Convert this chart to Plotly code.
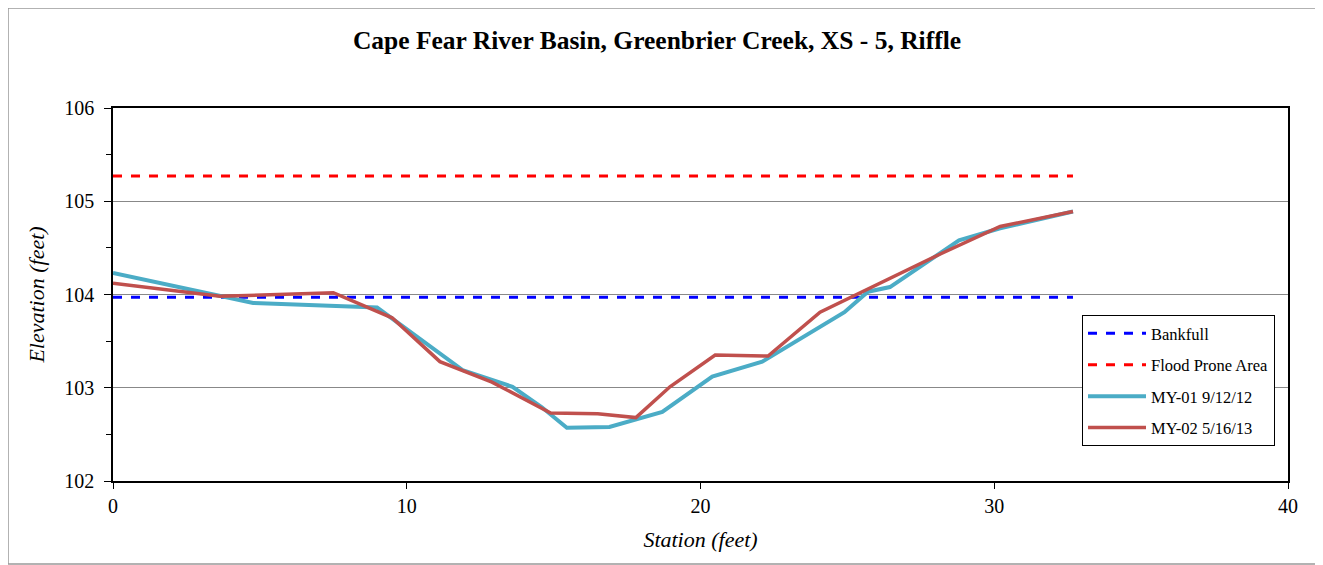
import plotly.graph_objects as go

# Data
bankfull_x = [0, 32.68]
bankfull_y = [103.97, 103.97]
flood_x = [0, 32.68]
flood_y = [105.27, 105.27]

my01_x = [0, 4.77, 8.99, 11.9, 13.6, 14.6, 15.45, 16.9, 18.7, 20.4, 22.1, 24.9, 25.7, 26.45, 28.8, 30.2, 32.68]
my01_y = [104.23, 103.91, 103.86, 103.19, 103.01, 102.79, 102.57, 102.58, 102.74, 103.12, 103.28, 103.81, 104.03, 104.08, 104.58, 104.71, 104.89]

my02_x = [0, 3.64, 7.5, 9.5, 11.13, 12.9, 14.9, 16.5, 17.8, 18.96, 20.5, 22.3, 24.07, 25.77, 28.2, 30.2, 32.68]
my02_y = [104.12, 103.98, 104.02, 103.75, 103.28, 103.06, 102.73, 102.72, 102.68, 103.01, 103.35, 103.34, 103.81, 104.07, 104.44, 104.73, 104.89]

FONT = "Liberation Serif, Times New Roman, serif"

fig = go.Figure()
fig.add_trace(go.Scatter(x=bankfull_x, y=bankfull_y, mode="lines", name="Bankfull",
                         line=dict(color="#0000FF", width=3, dash="dash"), legendgroup="a"))
fig.add_trace(go.Scatter(x=flood_x, y=flood_y, mode="lines", name="Flood Prone Area",
                         line=dict(color="#FF0000", width=3, dash="dash"), legendgroup="b"))
fig.add_trace(go.Scatter(x=my01_x, y=my01_y, mode="lines", name="MY-01 9/12/12",
                         line=dict(color="#4BACC6", width=4), legendgroup="c"))
fig.add_trace(go.Scatter(x=my02_x, y=my02_y, mode="lines", name="MY-02 5/16/13",
                         line=dict(color="#C0504D", width=3.5), legendgroup="d"))

# page body has an 8px margin, so the figure is drawn 8px smaller and offset
OFF = 8
W, H = 1323 - OFF, 565 - OFF
L, R, T, B = 113 - OFF, 35, 108 - OFF, 84
PW = W - L - R
PH = H - T - B

fig.update_layout(
    width=W, height=H,
    margin=dict(l=L, r=R, t=T, b=B),
    paper_bgcolor="white", plot_bgcolor="white",
    font=dict(family=FONT, size=20, color="black"),
    title=dict(text="<b>Cape Fear River Basin, Greenbrier Creek, XS - 5, Riffle</b>",
               x=(657 - OFF) / W, xref="container", xanchor="center",
               y=1 - (40 - OFF) / H, yanchor="middle",
               font=dict(family=FONT, size=25.5, color="black")),
    showlegend=True,
    legend=dict(x=(1082 - 113) / PW, y=(481 - 315) / PH, xanchor="left", yanchor="top",
                bordercolor="black", borderwidth=1, bgcolor="white",
                font=dict(family=FONT, size=16.5), tracegroupgap=7,
                traceorder="grouped", itemwidth=58),
    xaxis=dict(range=[0, 40], dtick=10, showgrid=False, zeroline=False,
               showline=True, linecolor="black", linewidth=1.5, mirror=True,
               ticks="outside", ticklen=6, tickcolor="black",
               tickfont=dict(family=FONT, size=20),
               title=dict(text="<i>Station (feet)</i>", font=dict(family=FONT, size=22), standoff=16)),
    yaxis=dict(range=[102, 106], dtick=1, showgrid=True, gridcolor="#888888", gridwidth=1,
               zeroline=False, showline=True, linecolor="black", linewidth=1.5, mirror=True,
               ticks="outside", ticklen=7, tickcolor="black", ticklabelstandoff=6,
               tickfont=dict(family=FONT, size=20),
               minor=dict(dtick=0.5, ticks="outside", ticklen=5, tickcolor="black", showgrid=False),
               title=dict(text="<i>Elevation (feet)</i>", font=dict(family=FONT, size=22), standoff=14)),
)

# outer chart border
fig.add_shape(type="rect", xref="paper", yref="paper",
              x0=-L / PW, x1=(W - 2 - L) / PW,
              y0=-(B - 1) / PH, y1=(PH + T) / PH,
              line=dict(color="#999999", width=1.5), layer="below")

fig.write_html("out.html")
